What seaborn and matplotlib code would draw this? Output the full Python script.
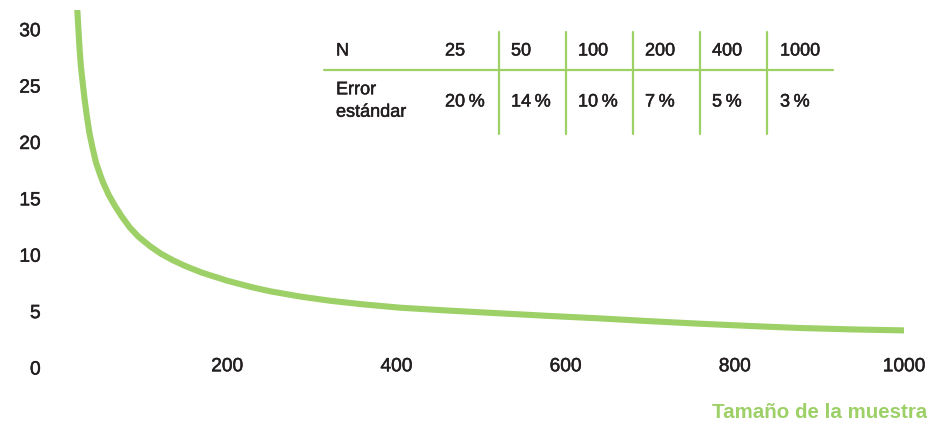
import matplotlib
matplotlib.use("Agg")
import matplotlib.pyplot as plt
import matplotlib.patheffects as pe
import seaborn as sns
import pandas as pd
from matplotlib.lines import Line2D

# ---- data ----
sample_size = [22.8, 24, 25.5, 27, 29.2, 31.5, 33.9, 37, 40.6, 45, 50, 53.6, 60, 67,
               75.3, 85, 95, 108.8, 122, 136, 150, 170, 200, 230, 251, 286, 322,
               360, 404, 460, 522, 580, 640, 700, 758, 820, 876, 940, 1003]
std_error = [31.8, 30.2, 28.3, 26.8, 25.3, 23.8, 22.45, 20.9, 19.6, 18.2, 17.1, 16.4,
             15.35, 14.42, 13.45, 12.45, 11.65, 10.8, 10.12, 9.55, 9.06, 8.46, 7.74,
             7.15, 6.8, 6.34, 5.96, 5.65, 5.35, 5.1, 4.85, 4.62, 4.4, 4.15, 3.93,
             3.72, 3.55, 3.42, 3.33]
y_ticks = [0, 5, 10, 15, 20, 25, 30]
x_ticks = [200, 400, 600, 800, 1000]
table_n = ["25", "50", "100", "200", "400", "1000"]
table_err = ["20\u2009%", "14\u2009%", "10\u2009%", "7\u2009%", "5\u2009%", "3\u2009%"]
row_labels = ["N", "Error\nestándar"]
x_title = "Tamaño de la muestra"

GREEN = "#9dd067"
DARK = "#231f20"

sns.set_theme(style="white")
plt.rcParams["font.family"] = ["Liberation Sans", "DejaVu Sans"]

W, H = 928, 422
fig = plt.figure(figsize=(W / 100, H / 100), dpi=100)
fig.patch.set_facecolor("white")

def fx(px):
    return px / W

def fy(py):
    return 1 - py / H

heavy = [pe.withStroke(linewidth=0.35, foreground=DARK)]

ax = fig.add_axes([fx(58), fy(368), (904 - 58) / W, (368 - 10) / H])
df = pd.DataFrame({"n": sample_size, "err": std_error})
sns.lineplot(data=df, x="n", y="err", ax=ax, color=GREEN, linewidth=4.4,
             solid_capstyle="butt", solid_joinstyle="round")
ax.set_xlim(0, 1000)
ax.set_ylim(0, 31.75)
ax.set_xticks(x_ticks)
ax.set_xticklabels([str(t) for t in x_ticks])
ax.set_yticks(y_ticks)
ax.set_yticklabels([str(t) for t in y_ticks])
ax.tick_params(axis="y", length=0, pad=12.5, labelsize=13.8, labelcolor=DARK)
ax.tick_params(axis="x", length=0, pad=-7, labelsize=13.8, labelcolor=DARK)
for lab in ax.get_xticklabels() + ax.get_yticklabels():
    lab.set_path_effects(heavy)
for s in ax.spines.values():
    s.set_visible(False)
ax.set_xlabel("")
ax.set_ylabel("")
ax.grid(False)
ax.patch.set_alpha(0)

# x-axis title
fig.text(fx(927), fy(413), x_title, ha="right", va="center", color=GREEN,
         fontsize=14.8, fontweight="bold")

# ---- table ----
col_x = [445, 511, 578, 645, 712, 780]
vline_x = [499, 566, 633, 700, 767]
fs_tab = 13
fig.text(fx(336), fy(51), row_labels[0], ha="left", va="center", color=DARK,
         fontsize=fs_tab, path_effects=heavy)
fig.text(fx(336), fy(101), row_labels[1], ha="left", va="center", color=DARK,
         fontsize=fs_tab, linespacing=1.42, path_effects=heavy)
for x, n_lab, e_lab in zip(col_x, table_n, table_err):
    fig.text(fx(x), fy(51), n_lab, ha="left", va="center", color=DARK,
             fontsize=fs_tab, path_effects=heavy)
    fig.text(fx(x), fy(102), e_lab, ha="left", va="center", color=DARK,
             fontsize=fs_tab, path_effects=heavy)

fig.add_artist(Line2D([fx(324), fx(833)], [fy(70), fy(70)], color=GREEN, lw=1.6,
                      transform=fig.transFigure))
for x in vline_x:
    fig.add_artist(Line2D([fx(x), fx(x)], [fy(32), fy(134)], color=GREEN, lw=1.6,
                          transform=fig.transFigure))

fig.savefig("out.png", dpi=100, facecolor="white")
